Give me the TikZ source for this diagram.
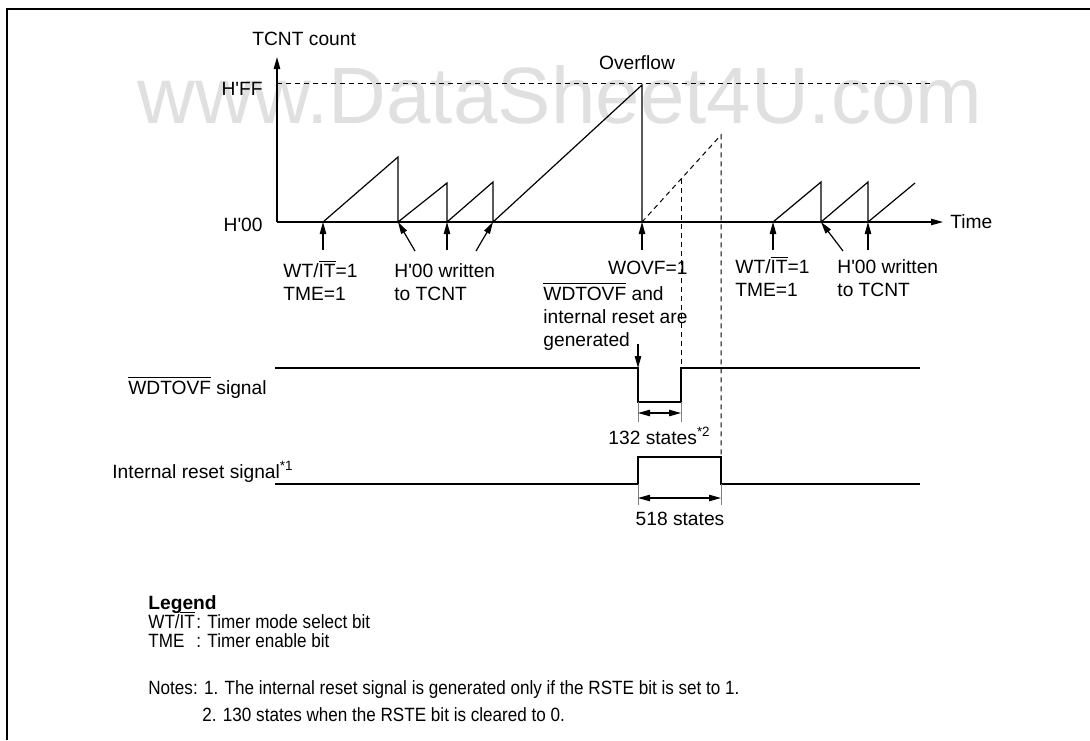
\documentclass[tikz,border=0pt]{standalone}
\usepackage{fontspec}
\setmainfont{Liberation Sans}
\newfontfamily\narrowfont{Liberation Sans}[FakeStretch=0.89]
\usetikzlibrary{arrows.meta}
\newcommand\bartxt[1]{$\overline{\mbox{#1}}$}
\newcommand\labstack[1]{\vtop{\baselineskip=11.5pt\halign{##\hfil\cr#1\crcr}}}
\tikzset{timing/.style={
  x=0.5pt,y=-0.5pt,
  >={Triangle[length=6pt,width=3.2pt]},
  font=\fontsize{9.6}{11.5}\selectfont
},
sig/.style={line width=0.6pt},
guide/.style={line width=0.5pt,dash pattern=on 2.5pt off 2pt},
ext/.style={line width=0.4pt,gray},
lbl/.style={inner sep=0pt,anchor=base west},
legtext/.style={lbl,font=\fontsize{9.6}{11.5}\narrowfont}}

\begin{document}
\begin{tikzpicture}[timing]
  \useasboundingbox (0,0) rectangle (1090,740);
  \node[lbl,anchor=base,text=black!12,font=\fontsize{40}{40}\selectfont] (wmark) at (560,123) {www.DataSheet4U.com};
  \draw[line width=0.6pt] (1090,9) -- (7,9) -- (7,740);

  \coordinate (O) at (277,222);
  \coordinate (Y) at (277,57);
  \coordinate (X) at (943,222);
  \coordinate (FF0) at (277,83);
  \coordinate (FF1) at (933,83);
  \draw[sig,->] (O) -- (Y);
  \draw[sig,->] (O) -- (X);
  \draw[guide] (FF0) -- (FF1);
  \node[lbl] (cnt) at (252,45) {TCNT count};
  \node[lbl,anchor=base east] (hff) at (263,95) {H\textquotesingle FF};
  \node[lbl,anchor=base east] (h00) at (263,231) {H\textquotesingle 00};
  \node[lbl] (time) at (950,228) {Time};
  \node[lbl,anchor=base] (ovf) at (637,69) {Overflow};

  \coordinate (s1) at (323,222);
  \coordinate (s2) at (398,222);
  \coordinate (s3) at (447,222);
  \coordinate (s4) at (493,222);
  \coordinate (ov) at (642,222);
  \coordinate (s5) at (773,222);
  \coordinate (s6) at (821,222);
  \coordinate (s7) at (868,222);
  \draw[sig] (s1) -- (398,157) -- (s2) -- (447,183) -- (s3) -- (493,182) -- (s4) -- (642,85) -- (ov);
  \draw[guide] (ov) -- (721,135) -- (721,457);
  \draw[guide] (681,179) -- (681,368);
  \draw[sig] (s5) -- (821,182) -- (s6) -- (868,182) -- (s7) -- (915,183);

  \draw[sig,->] ([yshift=-14pt]s1) -- (s1);
  \draw[sig,->] ([shift={(17,29)}]s2) -- (s2);
  \draw[sig,->] ([yshift=-14pt]s3) -- (s3);
  \draw[sig,->] ([shift={(-17,29)}]s4) -- (s4);
  \draw[sig,->] ([yshift=-14pt]ov) -- (ov);
  \draw[sig,->] ([yshift=-14pt]s5) -- (s5);
  \draw[sig,->] ([shift={(22,29)}]s6) -- (s6);
  \draw[sig,->] ([yshift=-14pt]s7) -- (s7);

  \node[lbl] (wt1) at (283,277) {\labstack{WT/\bartxt{IT}=1\cr TME=1}};
  \node[lbl] (wr1) at (394,277) {\labstack{H\textquotesingle 00 written\cr to TCNT}};
  \node[lbl,anchor=base east] (wovf) at (688,274) {WOVF=1};
  \node[lbl] (gen) at (543,300) {\labstack{\bartxt{WDTOVF} and\cr internal reset are\cr generated}};
  \node[lbl] (wt2) at (735,273) {\labstack{WT/\bartxt{IT}=1\cr TME=1}};
  \node[lbl] (wr2) at (837,273) {\labstack{H\textquotesingle 00 written\cr to TCNT}};

  \coordinate (g) at (638,368);
  \draw[sig,->] ([yshift=12pt]g) -- (g);
  \coordinate (w0) at (275,368);
  \coordinate (w2) at (681,368);
  \coordinate (w3) at (920,368);
  \draw[sig] (w0) -- (g) -- (638,402) -- (681,402) -- (w2) -- (w3);
  \node[lbl,anchor=base east] (wdsig) at (267,394) {\bartxt{WDTOVF} signal};
  \coordinate (r0) at (275,484);
  \coordinate (r1) at (638,484);
  \coordinate (r2) at (721,484);
  \coordinate (r3) at (920,484);
  \draw[sig] (r0) -- (r1) -- (638,457) -- (721,457) -- (r2) -- (r3);
  \node[lbl] (rstsig) at (112,478) {Internal reset signal\textsuperscript{*1}};

  \draw[ext] (638,402) -- (638,422) (681,402) -- (681,422);
  \draw[sig,<->] (638,413) -- (681,413);
  \node[lbl] (s132) at (608,444) {132 states\textsuperscript{*2}};
  \draw[ext] (638,484) -- (638,505) (721,484) -- (721,505);
  \draw[sig,<->] (638,498) -- (721,498);
  \node[lbl,anchor=base] (s518) at (680,525) {518 states};

  \node[lbl,font=\fontsize{9.6}{11.5}\selectfont\bfseries] (leg) at (148,609) {Legend};
  \node[legtext] (leg1) at (148,628) {WT/\bartxt{IT}};
  \node[legtext] (leg1b) at (196,628) {: Timer mode select bit};
  \node[legtext] (leg2) at (148,647) {TME};
  \node[legtext] (leg2b) at (196,647) {: Timer enable bit};
  \node[legtext] (note1) at (148,694) {Notes: 1. The internal reset signal is generated only if the RSTE bit is set to 1.};
  \node[legtext] (note2) at (202,721) {2. 130 states when the RSTE bit is cleared to 0.};
\end{tikzpicture}
\end{document}
